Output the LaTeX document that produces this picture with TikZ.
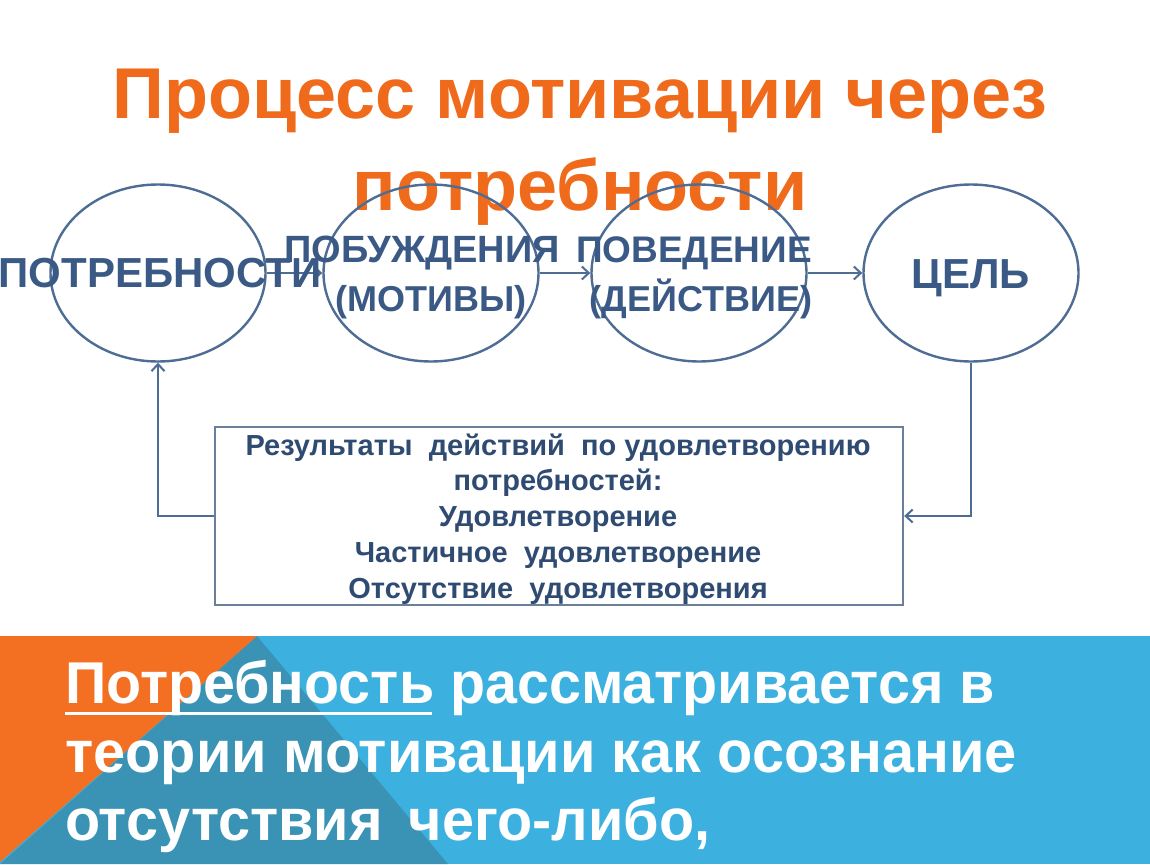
\documentclass[tikz,border=0pt]{standalone}
\usepackage{fontspec}
\setmainfont{Liberation Sans}
\usetikzlibrary{shapes.geometric,arrows.meta}
\definecolor{torange}{HTML}{F06A1C}
\definecolor{cline}{HTML}{4D6D95}
\definecolor{ctext}{HTML}{3A5A85}
\definecolor{btext}{HTML}{2F4B72}
\definecolor{bline}{HTML}{6A7F9A}
\definecolor{borange}{HTML}{F36F21}
\definecolor{bteal}{HTML}{3A93B5}
\definecolor{bblue}{HTML}{3CB1E0}
\tikzset{
  circ/.style={ellipse, draw=cline, line width=2.4pt, minimum width=215pt, minimum height=177pt, inner sep=0pt},
  arr/.style={draw=cline, line width=2.4pt, -{Straight Barb[length=7pt,width=13pt,line width=2pt]}},
  ctxt/.style={text=ctext, font=\bfseries, anchor=base, inner sep=0pt},
  ttl/.style={text=torange, font=\fontsize{72}{80}\selectfont\bfseries, anchor=base, inner sep=0pt},
  btxt/.style={text=btext, font=\fontsize{29}{33}\selectfont\bfseries, anchor=base, inner sep=0pt},
  wtxt/.style={text=white, font=\fontsize{59}{66}\selectfont\bfseries, anchor=base west, inner sep=0pt},
}
\begin{document}
\begin{tikzpicture}[x=1pt,y=-1pt]
\useasboundingbox (0,0) rectangle (1150,864);
\fill[white] (0,0) rectangle (1150,864);
% bottom band
\fill[bblue] (0,636) rectangle (1150,864);
\fill[bteal] (257,636) -- (448,864) -- (0,864) -- cycle;
\fill[borange] (0,636) -- (257,636) -- (0,862) -- cycle;
% title
\node[ttl] (t1) at (580,118) {Процесс мотивации через};
\node[ttl] (t2) at (580,210) {потребности};
% circles
\node[circ] (c1) at (158,273) {};
\node[circ] (c2) at (431,273) {};
\node[circ] (c3) at (699,273) {};
\node[circ] (c4) at (971,273) {};
% box
\node[draw=bline, line width=2.4pt, fill=white, minimum width=688pt, minimum height=178pt, inner sep=0pt] (box) at (559,516) {};
% arrows
\draw[arr] (c1.east) -- (c2.west);
\draw[arr] (c2.east) -- (c3.west);
\draw[arr] (c3.east) -- (c4.west);
\draw[arr] (c4.south) |- (box.east);
\draw[arr] (box.west) -| (c1.south);
% circle texts
\node[ctxt, font=\fontsize{42}{46}\selectfont\bfseries] (l1) at (160,287) {ПОТРЕБНОСТИ};
\node[ctxt, font=\fontsize{38}{42}\selectfont\bfseries] (l2a) at (422,262) {ПОБУЖДЕНИЯ};
\node[ctxt, font=\fontsize{36}{40}\selectfont\bfseries] (l2b) at (431,311) {(МОТИВЫ)};
\node[ctxt, font=\fontsize{37}{41}\selectfont\bfseries] (l3a) at (694,262) {ПОВЕДЕНИЕ};
\node[ctxt, font=\fontsize{36}{40}\selectfont\bfseries] (l3b) at (701,311) {(ДЕЙСТВИЕ)};
\node[ctxt, font=\fontsize{42}{46}\selectfont\bfseries] (l4) at (971,288) {ЦЕЛЬ};
% box texts
\node[btxt] (b1) at (558,455) {Результаты\ \ действий\ \ по удовлетворению};
\node[btxt] (b2) at (558,490) {потребностей:};
\node[btxt] (b3) at (558,526) {Удовлетворение};
\node[btxt] (b4) at (558,562) {Частичное\ \ удовлетворение};
\node[btxt] (b5) at (558,598) {Отсутствие\ \ удовлетворения};
% bottom texts
\node[wtxt] (w1) at (65,703) {\scalebox{0.973}[1]{Потребность рассматривается в}};
\node[wtxt] (w2) at (65,772) {\scalebox{0.978}[1]{теории мотивации как осознание}};
\node[wtxt] (w3) at (65,840) {\scalebox{0.975}[1]{отсутствия\hspace{10pt} чего-либо,}};
\draw[white, line width=3pt] ([yshift=-10pt]w1.base west) -- ++(367,0);
\end{tikzpicture}
\end{document}
